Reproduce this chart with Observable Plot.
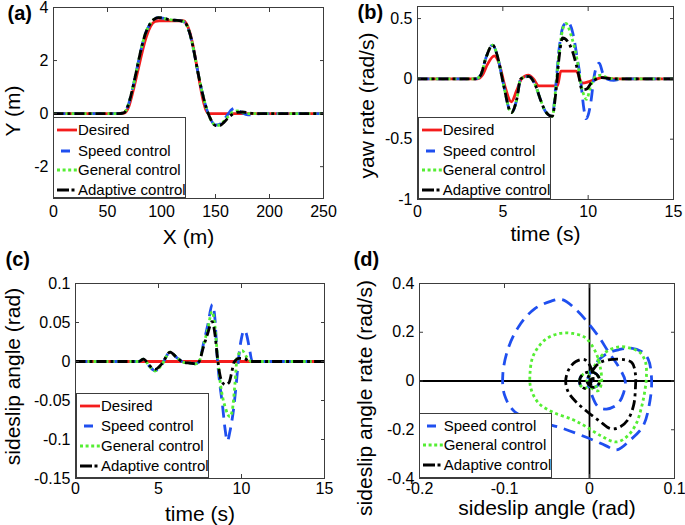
<!DOCTYPE html>
<html><head><meta charset="utf-8">
<script src="https://cdn.jsdelivr.net/npm/d3@7"></script>
<script src="https://cdn.jsdelivr.net/npm/@observablehq/plot@0.6"></script>
<style>
body{margin:0;background:#fff;}
#fig{position:relative;width:685px;height:525px;overflow:hidden;font-family:"Liberation Sans",Arial,Helvetica,sans-serif;color:#000;}
.panel{position:absolute;}
.legend{position:absolute;background:#fff;border:1px solid #3c3c3c;box-sizing:border-box;}
</style></head><body><div id="fig"></div>
<script>
// ---------- labels / ticks ----------
const seriesNames = ["Desired", "Speed control", "General control", "Adaptive control"];
const aXTicks = [0, 50, 100, 150, 200, 250];
const aYTicks = [-2, 0, 2, 4];
const bXTicks = [0, 5, 10, 15];
const bYTicks = [-1, -0.5, 0, 0.5];
const cXTicks = [0, 5, 10, 15];
const cYTicks = [-0.15, -0.1, -0.05, 0, 0.05, 0.1];
const dXTicks = [-0.2, -0.1, 0, 0.1];
const dYTicks = [-0.4, -0.2, 0, 0.2, 0.4];

// ---------- (a) trajectory: X (m) vs Y (m) ----------
const aDesiredX = [0, 60, 66, 70, 74, 78, 82, 86, 90, 94, 98, 120, 123, 126, 129, 132, 135, 138, 141, 144, 250];
const aDesiredY = [0, 0, 0.03, 0.3, 0.9, 1.6, 2.3, 2.9, 3.3, 3.47, 3.5, 3.5, 3.4, 3.1, 2.6, 1.95, 1.25, 0.6, 0.15, 0, 0];
const aSpeedX = [0, 60, 65, 69, 73, 77, 81, 85, 89, 93, 97, 101, 106, 112, 118, 122, 126, 130, 134, 138, 142, 146, 150, 154, 158, 162, 165, 168, 171, 175, 180, 185, 192, 250];
const aSpeedY = [0, 0, 0.03, 0.3, 0.9, 1.65, 2.4, 3.0, 3.35, 3.55, 3.62, 3.6, 3.55, 3.52, 3.5, 3.42, 3.05, 2.35, 1.5, 0.75, 0.15, -0.25, -0.43, -0.4, -0.22, 0.0, 0.15, 0.2, 0.13, 0.02, -0.05, -0.03, 0, 0];
const aGeneralX = [0, 60, 65, 69, 73, 77, 81, 85, 89, 93, 97, 101, 106, 112, 118, 122, 126, 130, 134, 138, 142, 146, 150, 154, 158, 162, 166, 170, 175, 180, 190, 250];
const aGeneralY = [0, 0, 0.03, 0.3, 0.9, 1.65, 2.4, 3.0, 3.35, 3.55, 3.62, 3.6, 3.55, 3.52, 3.5, 3.42, 3.05, 2.35, 1.5, 0.75, 0.15, -0.25, -0.44, -0.43, -0.28, -0.1, 0.06, 0.1, 0.05, 0.0, 0, 0];
const aAdaptiveX = [0, 60, 65, 69, 73, 77, 81, 85, 89, 93, 97, 101, 106, 112, 118, 122, 126, 130, 134, 138, 142, 146, 150, 154, 158, 162, 166, 170, 175, 180, 190, 250];
const aAdaptiveY = [0, 0, 0.03, 0.3, 0.9, 1.65, 2.4, 3.0, 3.35, 3.55, 3.62, 3.6, 3.55, 3.52, 3.5, 3.42, 3.05, 2.35, 1.5, 0.75, 0.15, -0.25, -0.45, -0.45, -0.32, -0.15, -0.02, 0.05, 0.06, 0.03, 0, 0];

// ---------- (b) yaw rate (rad/s) vs time (s) ----------
const bDesiredT = [0, 3.5, 3.8, 4.1, 4.5, 4.8, 5.1, 5.5, 5.8, 6.1, 6.5, 6.8, 7.1, 8.2, 8.4, 9.3, 9.65, 10.1, 10.5, 10.9, 11.5, 15];
const bDesiredY = [0, 0, 0.03, 0.12, 0.19, 0.12, -0.05, -0.19, -0.1, 0.0, 0.03, 0.0, -0.058, -0.058, 0.065, 0.065, -0.035, -0.02, 0.0, 0.012, 0, 0];
const bSpeedT = [0, 3.4, 3.7, 4.0, 4.4, 4.7, 5.0, 5.5, 5.8, 6.05, 6.5, 6.9, 7.2, 7.5, 7.9, 8.1, 8.3, 8.55, 8.8, 9.1, 9.35, 9.55, 9.75, 9.87, 10.0, 10.15, 10.35, 10.55, 10.65, 10.85, 11.1, 11.5, 12.0, 15];
const bSpeedY = [0, 0, 0.03, 0.17, 0.28, 0.18, -0.02, -0.28, -0.18, 0.0, 0.02, -0.05, -0.17, -0.27, -0.31, -0.06, 0.25, 0.44, 0.47, 0.38, 0.18, 0.0, -0.25, -0.33, -0.3, -0.2, 0.02, 0.12, 0.13, 0.05, 0.0, -0.012, 0, 0];
const bGeneralT = [0, 3.4, 3.7, 4.0, 4.4, 4.7, 5.0, 5.5, 5.8, 6.05, 6.5, 6.9, 7.2, 7.5, 7.9, 8.1, 8.3, 8.55, 8.7, 9.0, 9.35, 9.6, 9.8, 9.9, 10.15, 10.45, 10.75, 11.2, 12, 15];
const bGeneralY = [0, 0, 0.03, 0.17, 0.28, 0.18, -0.02, -0.28, -0.18, 0.0, 0.02, -0.05, -0.17, -0.27, -0.31, -0.08, 0.22, 0.43, 0.46, 0.36, 0.16, -0.06, -0.15, -0.17, -0.06, 0.02, 0.03, 0.005, 0, 0];
const bAdaptiveT = [0, 3.4, 3.7, 4.0, 4.4, 4.7, 5.0, 5.5, 5.8, 6.05, 6.5, 6.9, 7.2, 7.5, 7.9, 8.1, 8.3, 8.5, 8.8, 9.1, 9.4, 9.65, 9.9, 10.2, 10.5, 10.8, 11.5, 15];
const bAdaptiveY = [0, 0, 0.03, 0.17, 0.28, 0.18, -0.02, -0.28, -0.18, 0.0, 0.02, -0.05, -0.17, -0.27, -0.31, -0.12, 0.18, 0.34, 0.31, 0.22, 0.06, -0.09, -0.085, -0.03, 0.0, 0.01, 0, 0];

// ---------- (c) sideslip angle (rad) vs time (s) ----------
const cDesiredT = [0, 15];
const cDesiredY = [0, 0];
const cSpeedT = [0, 3.8, 4.1, 4.45, 4.8, 5.2, 5.7, 6.1, 6.5, 6.9, 7.25, 7.45, 7.7, 7.95, 8.25, 8.4, 8.53, 8.7, 8.85, 9.0, 9.15, 9.3, 9.54, 9.7, 9.84, 10.0, 10.15, 10.3, 10.45, 10.65, 15];
const cSpeedY = [0, 0, 0.003, -0.006, -0.012, -0.004, 0.012, 0.005, -0.001, -0.002, -0.003, 0.0, 0.022, 0.045, 0.073, 0.055, 0.008, -0.03, -0.055, -0.085, -0.102, -0.09, -0.058, -0.025, 0.007, 0.03, 0.04, 0.035, 0.02, 0, 0];
const cGeneralT = [0, 3.8, 4.1, 4.45, 4.8, 5.2, 5.7, 6.1, 6.5, 6.9, 7.25, 7.45, 7.7, 7.95, 8.23, 8.4, 8.55, 8.74, 9.04, 9.3, 9.45, 9.6, 9.74, 10.04, 10.34, 10.6, 15];
const cGeneralY = [0, 0, 0.003, -0.006, -0.012, -0.004, 0.012, 0.005, -0.001, -0.002, -0.003, 0.0, 0.02, 0.04, 0.064, 0.045, 0.008, -0.03, -0.06, -0.071, -0.062, -0.03, 0.005, 0.014, 0.005, 0, 0];
const cAdaptiveT = [0, 3.8, 4.1, 4.45, 4.8, 5.2, 5.7, 6.1, 6.5, 6.9, 7.25, 7.45, 7.7, 7.95, 8.23, 8.4, 8.55, 8.7, 8.85, 9.05, 9.25, 9.4, 9.55, 9.85, 10.15, 10.5, 15];
const cAdaptiveY = [0, 0, 0.003, -0.005, -0.01, -0.003, 0.012, 0.005, -0.001, -0.002, -0.003, 0.0, 0.018, 0.035, 0.051, 0.035, 0.005, -0.017, -0.027, -0.03, -0.027, -0.015, -0.001, 0.004, 0.004, 0, 0];

// ---------- (d) phase plane: sideslip angle (rad) vs sideslip angle rate (rad/s) ----------
const dStartB = [0, 0.002, 0.001, -0.006, -0.011, -0.011, -0.005, 0.005, 0.011, 0.011, 0.005, -0.001, -0.003, -0.002];
const dStartR = [0, 0.008, -0.012, -0.03, -0.015, 0.012, 0.033, 0.035, 0.015, -0.012, -0.026, -0.015, 0, 0.012];
const dSpeedB = [0.004, 0.012, 0.022, 0.034, 0.048, 0.061, 0.069, 0.073, 0.071, 0.063, 0.048, 0.032, 0.019, -0.003, -0.031, -0.06, -0.088, -0.1, -0.102, -0.096, -0.083, -0.065, -0.045, -0.032, -0.015, 0.0, 0.012, 0.022, 0.034, 0.042, 0.04, 0.033, 0.02, 0.01, 0.003, 0, 0];
const dSpeedR = [0.05, 0.09, 0.115, 0.128, 0.135, 0.121, 0.09, 0.01, -0.084, -0.185, -0.242, -0.283, -0.265, -0.232, -0.195, -0.165, -0.126, -0.057, 0.025, 0.13, 0.225, 0.295, 0.328, 0.334, 0.29, 0.231, 0.176, 0.121, 0.06, 0.0, -0.05, -0.095, -0.115, -0.105, -0.06, -0.02, 0];
const dGeneralB = [0.004, 0.012, 0.022, 0.035, 0.048, 0.06, 0.066, 0.067, 0.065, 0.061, 0.055, 0.045, 0.032, 0.015, -0.005, -0.02, -0.043, -0.06, -0.069, -0.07, -0.066, -0.052, -0.035, -0.02, -0.005, 0.007, 0.013, 0.014, 0.01, 0.003, 0, 0];
const dGeneralR = [0.05, 0.095, 0.125, 0.14, 0.135, 0.115, 0.075, 0.02, -0.043, -0.11, -0.175, -0.225, -0.25, -0.228, -0.185, -0.158, -0.128, -0.09, -0.03, 0.03, 0.105, 0.17, 0.195, 0.195, 0.178, 0.12, 0.05, -0.01, -0.04, -0.03, -0.01, 0];
const dAdaptiveB = [0.004, 0.012, 0.024, 0.04, 0.05, 0.054, 0.054, 0.052, 0.045, 0.035, 0.025, 0.012, -0.003, -0.016, -0.025, -0.028, -0.024, -0.016, -0.006, 0.001, 0.004, 0.004, 0.002, 0];
const dAdaptiveR = [0.045, 0.075, 0.088, 0.088, 0.075, 0.03, -0.03, -0.098, -0.16, -0.19, -0.196, -0.165, -0.125, -0.085, -0.045, 0.0, 0.05, 0.08, 0.088, 0.06, 0.02, -0.005, -0.012, 0];

// ---------- styles ----------
const colors = ["#f41c1c", "#1f4fef", "#55ee33", "#000000"];
const dashes = [null, "12,7", "3,3", "10,4,3,4"];
const legendDash = [null, "0,4,9,40", "3,2.6", "12,2.5,3,40"];
const FONT = '"Liberation Sans", Arial, Helvetica, sans-serif';
const BOX = "#3c3c3c";
const fmt = d => String(d);
const fig = document.getElementById("fig");

function pts(xs, ys) { return xs.map((x, i) => ({x, y: ys[i]})); }

function lineMarks(series, curve) {
  return series.map(s => Plot.line(pts(s.x, s.y), {
    x: "x", y: "y", stroke: colors[s.k], strokeWidth: 2.8,
    strokeDasharray: dashes[s.k] || undefined, curve, strokeLinecap: "butt", strokeLinejoin: "round"
  }));
}

function makePanel(c) {
  const marks = [
    ...(c.extra || []),
    ...lineMarks(c.series, c.curve),
    Plot.frame({stroke: BOX, strokeWidth: 1}),
    Plot.axisX(c.xTicks, {anchor: "bottom", tickSize: 0, tickPadding: c.xPad, tickFormat: fmt, fontSize: 16, label: null}),
    Plot.axisY(c.yTicks, {anchor: "left", tickSize: 0, tickPadding: 5, tickFormat: fmt, fontSize: 16, label: null}),
    Plot.axisX(c.xTicks, {anchor: "bottom", tickSize: 4, dy: -4, fill: "none", stroke: BOX, label: null}),
    Plot.axisX(c.xTicks, {anchor: "top", tickSize: 4, dy: 4, fill: "none", stroke: BOX, label: null}),
    Plot.axisY(c.yTicks, {anchor: "left", tickSize: 4, dx: 4, fill: "none", stroke: BOX, label: null}),
    Plot.axisY(c.yTicks, {anchor: "right", tickSize: 4, dx: -4, fill: "none", stroke: BOX, label: null}),
    Plot.text([c.xLabel], {text: d => d, frameAnchor: "bottom", dy: c.xLabDy, fontSize: 21, lineAnchor: "middle", textAnchor: "middle"}),
    Plot.text([c.yLabel], {text: d => d, frameAnchor: "left", dx: c.yLabDx, dy: c.yLabDy, rotate: -90, fontSize: 21, lineAnchor: "middle", textAnchor: "middle"}),
    Plot.text([c.tag], {text: d => d, frameAnchor: "top-left", dx: c.tagDx, dy: c.tagDy, fontSize: 20, fontWeight: "bold", lineAnchor: "middle", textAnchor: "start"})
  ];
  const svg = Plot.plot({
    width: c.width, height: c.height,
    marginTop: c.m[0], marginRight: c.m[1], marginBottom: c.m[2], marginLeft: c.m[3],
    x: {domain: c.xDomain}, y: {domain: c.yDomain},
    style: {fontFamily: FONT, color: "#000", background: "transparent", overflow: "visible"},
    marks
  });
  const holder = document.createElement("div");
  holder.className = "panel";
  holder.style.left = c.left + "px";
  holder.style.top = c.top + "px";
  holder.appendChild(svg);
  fig.appendChild(holder);
}

function makeLegend(c) {
  const box = document.createElement("div");
  box.className = "legend";
  Object.assign(box.style, {left: c.left + "px", top: c.top + "px", width: c.width + "px", height: c.height + "px"});
  const NS = "http://www.w3.org/2000/svg";
  c.entries.forEach((k, i) => {
    const cy = c.rows[i];
    const s = document.createElementNS(NS, "svg");
    s.setAttribute("width", 26); s.setAttribute("height", 10);
    Object.assign(s.style, {position: "absolute", left: "0px", top: (cy - 5) + "px"});
    const l = document.createElementNS(NS, "line");
    l.setAttribute("x1", 3); l.setAttribute("x2", 23); l.setAttribute("y1", 5); l.setAttribute("y2", 5);
    l.setAttribute("stroke", colors[k]); l.setAttribute("stroke-width", 2.8);
    if (legendDash[k]) l.setAttribute("stroke-dasharray", legendDash[k]);
    s.appendChild(l); box.appendChild(s);
    const t = document.createElement("div");
    t.textContent = seriesNames[k];
    Object.assign(t.style, {position: "absolute", left: "24px", top: (cy - 10) + "px", height: "20px", lineHeight: "20px", fontSize: "15px", whiteSpace: "nowrap"});
    box.appendChild(t);
  });
  fig.appendChild(box);
}

// (a)
makePanel({
  left: 0, top: 0, width: 340, height: 250, m: [7, 17, 52, 53],
  xDomain: [0, 250], yDomain: [-3.2, 4], xTicks: aXTicks, yTicks: aYTicks,
  xLabel: "X (m)", yLabel: "Y (m)", tag: "(a)", xPad: 7,
  xLabDy: 39, yLabDx: -40, yLabDy: 8, tagDx: -46, tagDy: 5.6,
  curve: "monotone-x",
  series: [{k: 0, x: aDesiredX, y: aDesiredY}, {k: 1, x: aSpeedX, y: aSpeedY}, {k: 2, x: aGeneralX, y: aGeneralY}, {k: 3, x: aAdaptiveX, y: aAdaptiveY}]
});
// (b)
makePanel({
  left: 340, top: 0, width: 345, height: 250, m: [6, 12, 51, 77],
  xDomain: [0, 15], yDomain: [-1, 0.6], xTicks: bXTicks, yTicks: bYTicks,
  xLabel: "time (s)", yLabel: "yaw rate (rad/s)", tag: "(b)", xPad: 6,
  xLabDy: 35, yLabDx: -50, yLabDy: 2.5, tagDx: -60, tagDy: 5.6,
  curve: "monotone-x",
  series: [{k: 0, x: bDesiredT, y: bDesiredY}, {k: 1, x: bSpeedT, y: bSpeedY}, {k: 2, x: bGeneralT, y: bGeneralY}, {k: 3, x: bAdaptiveT, y: bAdaptiveY}]
});
// (c)
makePanel({
  left: 0, top: 250, width: 340, height: 275, m: [33, 16, 47, 75],
  xDomain: [0, 15], yDomain: [-0.15, 0.1], xTicks: cXTicks, yTicks: cYTicks,
  xLabel: "time (s)", yLabel: "sideslip angle (rad)", tag: "(c)", xPad: 4,
  xLabDy: 36, yLabDx: -62, yLabDy: -4.5, tagDx: -70, tagDy: -24.4,
  curve: "monotone-x",
  series: [{k: 0, x: cDesiredT, y: cDesiredY}, {k: 1, x: cSpeedT, y: cSpeedY}, {k: 2, x: cGeneralT, y: cGeneralY}, {k: 3, x: cAdaptiveT, y: cAdaptiveY}]
});
// (d)
makePanel({
  left: 340, top: 250, width: 345, height: 275, m: [33, 11, 47, 79],
  xDomain: [-0.2, 0.1], yDomain: [-0.4, 0.4], xTicks: dXTicks, yTicks: dYTicks,
  xLabel: "sideslip angle (rad)", yLabel: "sideslip angle rate (rad/s)", tag: "(d)", xPad: 4,
  xLabDy: 29.5, yLabDx: -54, yLabDy: 17, tagDx: -66, tagDy: -24.4,
  curve: "catmull-rom",
  extra: [Plot.ruleX([0], {stroke: "#000", strokeWidth: 1.8}), Plot.ruleY([0], {stroke: "#000", strokeWidth: 1.8})],
  series: [
    {k: 1, x: dStartB.concat(dSpeedB), y: dStartR.concat(dSpeedR)},
    {k: 2, x: dStartB.concat(dGeneralB), y: dStartR.concat(dGeneralR)},
    {k: 3, x: dStartB.concat(dAdaptiveB), y: dStartR.concat(dAdaptiveR)}
  ]
});

makeLegend({left: 53, top: 117, width: 133, height: 81, rows: [12, 33, 52, 72], entries: [0, 1, 2, 3]});
makeLegend({left: 417.7, top: 117.3, width: 133.3, height: 81.7, rows: [12, 33, 52, 72], entries: [0, 1, 2, 3]});
makeLegend({left: 76, top: 393.3, width: 133.3, height: 84.4, rows: [12, 32, 51.5, 72], entries: [0, 1, 2, 3]});
makeLegend({left: 418.7, top: 413.3, width: 133.3, height: 64.4, rows: [12, 31, 51], entries: [1, 2, 3]});
</script></body></html>
